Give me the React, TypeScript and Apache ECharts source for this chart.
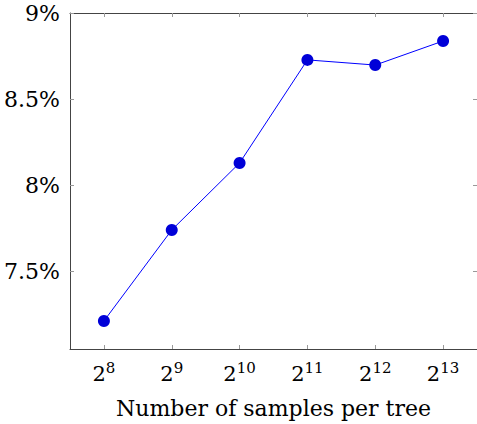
import React, { useEffect, useRef } from "react";
import * as echarts from "echarts";

const exponents = ["8", "9", "10", "11", "12", "13"];
const errorRates = [7.21, 7.74, 8.13, 8.73, 8.7, 8.84];
const yTicks = [7.5, 8, 8.5, 9];
const yMin = 7.047;
const yMax = 9.003;
const xTitle = "Number of samples per tree";

const FONT = "DejaVu Serif";

export default function App() {
  const ref = useRef<HTMLDivElement>(null);
  useEffect(() => {
    if (!ref.current) return;
    const chart = echarts.init(ref.current, null, { renderer: "svg" });
    const axisLine = { show: true, lineStyle: { color: "#444", width: 1 } };
    const tickStyle = { color: "#999", width: 1 };
    chart.setOption({
      animation: false,
      backgroundColor: "#fff",
      grid: { left: 70, top: 13, width: 409, height: 337 },
      xAxis: [
        {
          type: "category",
          position: "bottom",
          data: exponents,
          boundaryGap: true,
          axisLine,
          axisTick: { show: true, interval: 0, alignWithLabel: true, inside: true, length: 4, lineStyle: tickStyle },
          axisLabel: {
            interval: 0,
            margin: 11,
            formatter: (v: string) => `{b|2}{s|${v}}`,
            rich: {
              b: { fontFamily: FONT, fontSize: 21, color: "#000" },
              s: { fontFamily: FONT, fontSize: 15, color: "#000", padding: [0, 0, 12, 0] },
            },
          },
          name: xTitle,
          nameLocation: "middle",
          nameGap: 48,
          nameTextStyle: { fontFamily: FONT, fontSize: 22, color: "#000" },
          splitLine: { show: false },
        },
        {
          type: "category",
          position: "top",
          data: exponents,
          boundaryGap: true,
          axisLine,
          axisTick: { show: true, interval: 0, alignWithLabel: true, inside: true, length: 4, lineStyle: tickStyle },
          axisLabel: { show: false, interval: 0 },
          splitLine: { show: false },
        },
      ],
      yAxis: [
        {
          type: "value",
          position: "left",
          min: yMin,
          max: yMax,
          axisLine,
          axisTick: { show: true, inside: true, length: 4, lineStyle: tickStyle, customValues: yTicks },
          axisLabel: {
            customValues: yTicks,
            margin: 10,
            formatter: (v: number) => `${v}%`,
            fontFamily: FONT,
            fontSize: 22,
            color: "#000",
          },
          splitLine: { show: false },
        },
        {
          type: "value",
          position: "right",
          min: yMin,
          max: yMax,
          axisLine,
          axisTick: { show: true, inside: true, length: 4, lineStyle: tickStyle, customValues: yTicks },
          axisLabel: { show: false, customValues: yTicks },
          splitLine: { show: false },
        },
      ],
      series: [
        {
          type: "line",
          xAxisIndex: 0,
          yAxisIndex: 0,
          data: errorRates,
          symbol: "circle",
          symbolSize: 12,
          itemStyle: { color: "#0000d8" },
          lineStyle: { color: "#0000ff", width: 1 },
        },
      ],
    });
    return () => chart.dispose();
  }, []);
  return (
    <div
      ref={ref}
      style={{ position: "fixed", left: 0, top: 0, width: 477, height: 424, background: "#fff" }}
    />
  );
}
